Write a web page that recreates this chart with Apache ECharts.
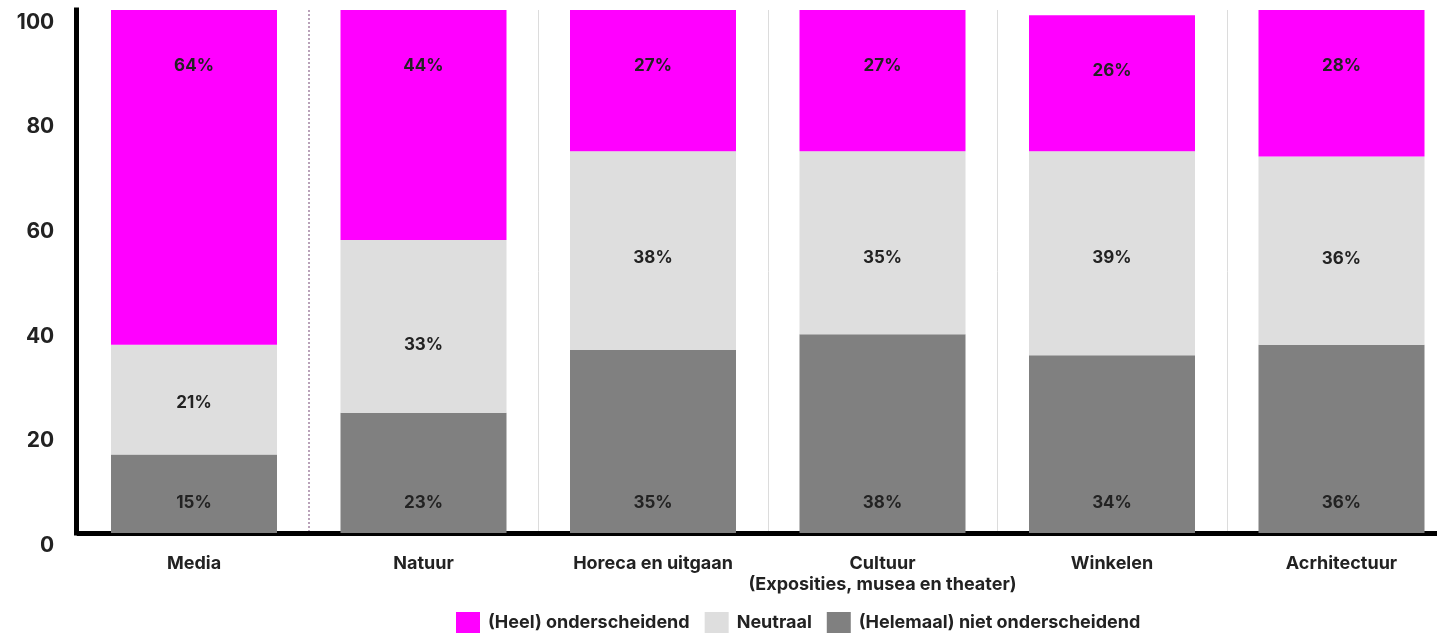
<!DOCTYPE html>
<html><head><meta charset="utf-8">
<script src="https://cdn.jsdelivr.net/npm/echarts@6/dist/echarts.min.js"></script>
<style>html,body{margin:0;padding:0;background:#fff}#c{width:1437px;height:633px}</style>
</head><body><div id="c"></div>
<script>
const categories = ['Media', 'Natuur', 'Horeca en uitgaan', 'Cultuur\n(Exposities, musea en theater)', 'Winkelen', 'Acrhitectuur'];
const seriesNames = ['(Heel) onderscheidend', 'Neutraal', '(Helemaal) niet onderscheidend'];
const nietOnderscheidend = [15, 23, 35, 38, 34, 36];
const neutraal = [21, 33, 38, 35, 39, 36];
const onderscheidend = [64, 44, 27, 27, 26, 28];
const yTickValues = [0, 20, 40, 60, 80, 100];

// styling only
const FONT = 'Inter';
const TXT = '#222';
const neutralLabelShift = [3, 18, 7, 15, 5, 8];
const colors = { hi: '#ff00ff', mid: '#dedede', lo: '#808080' };

const chart = echarts.init(document.getElementById('c'), null, { renderer: 'canvas' });
const labelBase = { show: true, formatter: p => p.value + '%', fontFamily: FONT, fontWeight: 'bold', fontSize: 17, lineHeight: 18, color: TXT };
const T = 'rgba(0,0,0,0)';

chart.setOption({
  animation: false,
  backgroundColor: '#fff',
  textStyle: { fontFamily: FONT },
  grid: { left: 79.25, width: 1377, top: 10, bottom: 100, containLabel: false, outerBoundsMode: 'none' },
  legend: {
    data: seriesNames,
    left: 456, top: 612, padding: 0,
    itemWidth: 24, itemHeight: 22, itemGap: 15, icon: 'rect',
    textStyle: { fontFamily: FONT, fontWeight: 'bold', fontSize: 18, color: TXT, padding: [0, 0, 0, 3] },
    selectedMode: false
  },
  xAxis: [
    {
      type: 'category', data: categories, offset: 4,
      axisLine: { show: true, lineStyle: { color: '#000', width: 5, cap: 'square' } },
      axisTick: { show: false },
      axisLabel: { fontFamily: FONT, fontWeight: 'bold', fontSize: 18, lineHeight: 21, color: TXT, margin: 16, interval: 0 },
      splitLine: { show: true, lineStyle: { color: [T, T, '#dcdcdc', '#dcdcdc', '#dcdcdc', '#dcdcdc', T], width: 1 } }
    },
    {
      type: 'category', data: categories, position: 'bottom',
      axisLine: { show: false }, axisTick: { show: false }, axisLabel: { show: false },
      splitLine: { show: true, lineStyle: { color: [T, '#a98ca9', T, T, T, T, T], width: 1.6, type: [2, 2] } }
    }
  ],
  yAxis: {
    type: 'value', min: yTickValues[0], max: yTickValues[yTickValues.length - 1], interval: yTickValues[1] - yTickValues[0],
    offset: 3,
    axisLine: { show: true, lineStyle: { color: '#000', width: 5, cap: 'square' } },
    axisTick: { show: false },
    splitLine: { show: false },
    axisLabel: { fontFamily: FONT, fontWeight: 'bold', fontSize: 21, lineHeight: 25, color: TXT, margin: 22, formatter: v => '\n' + v }
  },
  series: [
    {
      name: seriesNames[2], type: 'bar', stack: 'a', barWidth: 166, xAxisIndex: 0,
      itemStyle: { color: colors.lo },
      label: Object.assign({}, labelBase, { position: 'insideBottom', distance: 21 }),
      data: nietOnderscheidend
    },
    {
      name: seriesNames[1], type: 'bar', stack: 'a', barWidth: 166, xAxisIndex: 0,
      itemStyle: { color: colors.mid },
      label: Object.assign({}, labelBase, { position: 'inside' }),
      data: neutraal.map((v, i) => ({ value: v, label: { offset: [0, neutralLabelShift[i]] } }))
    },
    {
      name: seriesNames[0], type: 'bar', stack: 'a', barWidth: 166, xAxisIndex: 0,
      itemStyle: { color: colors.hi },
      label: Object.assign({}, labelBase, { position: 'insideTop', distance: 47 }),
      data: onderscheidend
    }
  ]
});
</script></body></html>
